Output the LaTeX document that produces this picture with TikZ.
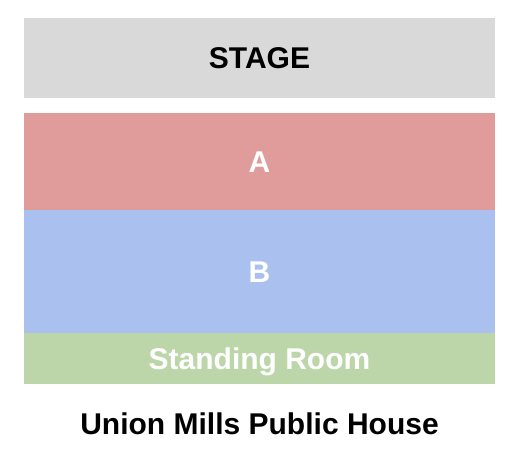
\documentclass[tikz,border=0pt]{standalone}
\usepackage{fontspec}
\setmainfont{Liberation Sans}
\definecolor{stagec}{HTML}{D9D9D9}
\definecolor{secA}{HTML}{E09C9A}
\definecolor{secB}{HTML}{AAC0EE}
\definecolor{secS}{HTML}{BCD6A9}
\begin{document}
\begin{tikzpicture}[x=1pt,y=-1pt,
  zone/.style={rectangle, inner sep=0pt, outer sep=0pt, draw=none, minimum width=471pt,
    font=\fontsize{30}{36}\selectfont\bfseries, text height=21.5pt, text depth=0pt},
  title/.style={inner sep=0pt, font=\fontsize{30}{36}\selectfont\bfseries, text height=21.5pt, text depth=0pt}]
\useasboundingbox (0,0) rectangle (518,450);
\node[zone, fill=stagec, minimum height=80pt, text=black] (stage) at (259.5,58) {STAGE};
\node[zone, fill=secA, minimum height=97pt, text=white] (a) at (259.5,161.5) {A};
\node[zone, fill=secB, minimum height=123pt, text=white] (b) at (259.5,271.5) {B};
\node[zone, fill=secS, minimum height=51pt, text=white] (sr) at (259.5,358.5) {Standing Room};
\node[title] (t) at (259.5,424) {Union Mills Public House};
\end{tikzpicture}
\end{document}
